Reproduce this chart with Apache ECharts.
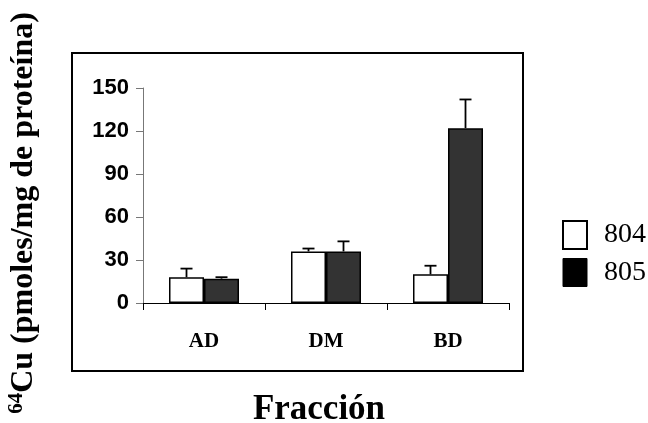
<!DOCTYPE html>
<html>
<head>
<meta charset="utf-8">
<script src="https://cdn.jsdelivr.net/npm/echarts@6/dist/echarts.min.js"></script>
<style>html,body{margin:0;padding:0;background:#fff;}#c{width:648px;height:423px;}</style>
</head>
<body>
<div id="c"></div>
<script>
const categories = ['AD', 'DM', 'BD'];
const s804 = [18, 36, 20];
const s805 = [17, 36, 122];
const e804 = [6, 2, 6];
const e805 = [1, 7, 20];
const yTicks = [0, 30, 60, 90, 120, 150];

const chart = echarts.init(document.getElementById('c'));
const BAR_W = 35;

function errSeries(name, vals, errs, sign) {
  return {
    type: 'custom',
    name: name,
    z: 1,
    silent: true,
    data: vals.map((v, i) => [i, v, errs[i]]),
    renderItem: function (params, api) {
      const i = api.value(0);
      const v = api.value(1);
      const e = api.value(2);
      const base = api.coord([i, v]);
      const top = api.coord([i, v + e]);
      const x = base[0] + sign * BAR_W / 2;
      return {
        type: 'group',
        children: [
          { type: 'line', shape: { x1: x, y1: base[1], x2: x, y2: top[1] }, style: { stroke: '#000', lineWidth: 1.8 } },
          { type: 'line', shape: { x1: x - 6, y1: top[1], x2: x + 6, y2: top[1] }, style: { stroke: '#000', lineWidth: 1.8 } }
        ]
      };
    }
  };
}

chart.setOption({
  animation: false,
  backgroundColor: '#fff',
  grid: { left: 143, right: 139, top: 88, bottom: 120, containLabel: false },
  legend: {
    orient: 'vertical',
    left: 557,
    top: 215,
    itemWidth: 24,
    itemHeight: 28,
    itemGap: 8,
    icon: 'rect',
    textStyle: { fontFamily: 'Liberation Serif', fontSize: 28, lineHeight: 28, color: '#000', padding: [0, 0, 0, 12] },
    data: [
      { name: '804', itemStyle: { color: '#fff', borderColor: '#000', borderWidth: 2 } },
      { name: '805', itemStyle: { color: '#000', borderColor: '#000', borderWidth: 1 } }
    ]
  },
  xAxis: {
    type: 'category',
    data: categories,
    axisLine: { lineStyle: { color: '#000', width: 1 } },
    axisTick: { show: true, length: 7, lineStyle: { color: '#000' } },
    axisLabel: { fontFamily: 'Liberation Serif', fontWeight: 'bold', fontSize: 21, color: '#000', margin: 28 },
    splitLine: { show: false }
  },
  yAxis: {
    type: 'value',
    min: yTicks[0],
    max: yTicks[yTicks.length - 1],
    interval: yTicks[1] - yTicks[0],
    axisLine: { show: true, lineStyle: { color: '#777', width: 1 } },
    axisTick: { show: true, length: 7, lineStyle: { color: '#777' } },
    axisLabel: { fontFamily: 'Liberation Sans', fontWeight: 'bold', fontSize: 22, color: '#000', margin: 14 },
    splitLine: { show: false }
  },
  graphic: [
    { type: 'rect', shape: { x: 72, y: 53, width: 451, height: 318 }, style: { fill: 'none', stroke: '#000', lineWidth: 2 }, z: 0 },
    {
      type: 'text', x: 319, y: 410,
      style: { text: 'Fracción', fontFamily: 'Liberation Serif', fontWeight: 'bold', fontSize: 35, fill: '#000', align: 'center', verticalAlign: 'middle' }
    },
    {
      type: 'text', x: 24, y: 213, rotation: Math.PI / 2,
      style: {
        text: '{sup|64}{main|Cu (pmoles/mg de proteína)}',
        align: 'center', verticalAlign: 'middle',
        rich: {
          sup: { fontFamily: 'Liberation Serif', fontWeight: 'bold', fontSize: 21, fill: '#000', verticalAlign: 'top', lineHeight: 35 },
          main: { fontFamily: 'Liberation Serif', fontWeight: 'bold', fontSize: 32, fill: '#000', lineHeight: 35 }
        }
      }
    }
  ],
  series: [
    {
      name: '804', type: 'bar', data: s804, barWidth: BAR_W, barGap: '0%',
      itemStyle: { color: '#fff', borderColor: '#000', borderWidth: 1.5 }, z: 2
    },
    {
      name: '805', type: 'bar', data: s805, barWidth: BAR_W, barGap: '0%',
      itemStyle: { color: '#333', borderColor: '#000', borderWidth: 1.5 }, z: 2
    },
    errSeries('err804', s804, e804, -1),
    errSeries('err805', s805, e805, 1)
  ]
});
</script>
</body>
</html>
